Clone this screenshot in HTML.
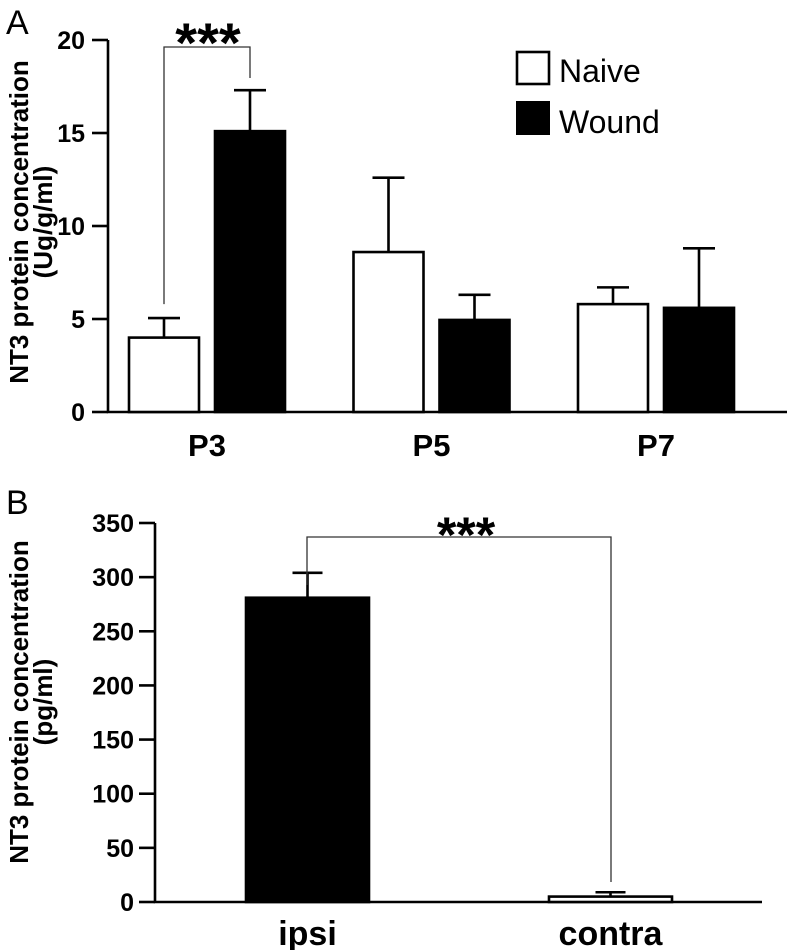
<!DOCTYPE html>
<html><head><meta charset="utf-8"><style>
body{margin:0;background:#fff}
svg{display:block;font-family:"Liberation Sans",Arial,sans-serif}
</style></head><body>
<svg id="c" width="787" height="950" viewBox="0 0 787 950"></svg>
<script>
// Panel A data
const catsA = ['P3','P5','P7'];
const naiveA = [4.0, 8.6, 5.8];
const naiveErrA = [1.05, 4.0, 0.9];
const woundA = [15.1, 4.95, 5.6];
const woundErrA = [2.2, 1.35, 3.2];
const ticksA = [0,5,10,15,20];
// Panel B data
const catsB = ['ipsi','contra'];
const valsB = [281, 5];
const errsB = [23, 4];
const fillB = ['#000','#fff'];
const ticksB = [0,50,100,150,200,250,300,350];

const NS='http://www.w3.org/2000/svg';
const svg=document.getElementById('c');
function mk(tag,attrs,parent){const e=document.createElementNS(NS,tag);for(const k in attrs)e.setAttribute(k,attrs[k]);(parent||svg).appendChild(e);return e;}
function txt(s,attrs,parent){const e=mk('text',attrs,parent);e.textContent=s;return e;}

// ---- Panel A ----
const yA=v=>412-v*18.6;
const gA=mk('g',{});


const lA=txt('A',{x:6,y:34,'font-size':34},gA);

const axA=mk('path',{d:`M108,${yA(20)}V412H787`,stroke:'#000','stroke-width':2.6,fill:'none'},gA);

ticksA.forEach(t=>{
  const l=mk('line',{x1:92,x2:108,y1:yA(t),y2:yA(t),stroke:'#000','stroke-width':2.6},gA);
  
  const tx=txt(String(t),{x:85,y:yA(t)+9,'font-size':25,'font-weight':'bold','text-anchor':'end'},gA);
  
});
const ytA=txt('NT3 protein concentration',{x:0,y:0,'font-size':26,'font-weight':'bold','text-anchor':'middle',transform:`translate(28,222) rotate(-90)`},gA);

const ytA2=txt('(Ug/g/ml)',{x:0,y:0,'font-size':26,'font-weight':'bold','text-anchor':'middle',transform:`translate(52,222) rotate(-90)`},gA);

const barW=70, gap=16, groupStart=129, groupStep=224.5;
catsA.forEach((c,i)=>{
  const x0=groupStart+i*groupStep, x1=x0+barW+gap;
  [[naiveA[i],naiveErrA[i],x0,'#fff','naive'],[woundA[i],woundErrA[i],x1,'#000','wound']].forEach(([v,e,x,f,n])=>{
    const cx=x+barW/2;
    const er=mk('path',{d:`M${cx},${yA(v)}V${yA(v+e)}M${cx-16},${yA(v+e)}H${cx+16}`,stroke:'#000','stroke-width':2.6,fill:'none'},gA);
    
    const r=mk('rect',{x:x,y:yA(v),width:barW,height:412-yA(v),fill:f,stroke:'#000','stroke-width':2.6},gA);
    
  });
  const cl=txt(c,{x:x0+barW+gap/2,y:456,'font-size':31,'font-weight':'bold','text-anchor':'middle'},gA);
  
});
// significance A
const sA=mk('path',{d:`M${groupStart+barW/2},${yA(5.8)}V47H${groupStart+barW+gap+barW/2}V78`,stroke:'#333','stroke-width':1.3,fill:'none'},gA);

const stA=txt('***',{x:208,y:62,'font-size':56,'font-weight':'bold','text-anchor':'middle'},gA);

// legend
const lg=mk('g',{},gA);

const lb1=mk('rect',{x:517,y:52,width:32,height:32,fill:'#fff',stroke:'#000','stroke-width':2.6},lg);

const lt1=txt('Naive',{x:559,y:82,'font-size':32},lg);

const lb2=mk('rect',{x:516,y:101,width:34,height:34,fill:'#000'},lg);

const lt2=txt('Wound',{x:559,y:133,'font-size':32},lg);


// ---- Panel B ----
const yB=v=>902-v*(379/350);
const gB=mk('g',{});


const lB=txt('B',{x:6,y:514,'font-size':34},gB);

const axB=mk('path',{d:`M155,${yB(350)}V902H762`,stroke:'#000','stroke-width':2.6,fill:'none'},gB);

ticksB.forEach(t=>{
  const l=mk('line',{x1:139,x2:155,y1:yB(t),y2:yB(t),stroke:'#000','stroke-width':2.6},gB);
  
  const tx=txt(String(t),{x:134,y:yB(t)+9,'font-size':25,'font-weight':'bold','text-anchor':'end'},gB);
  
});
const ytB=txt('NT3 protein concentration',{x:0,y:0,'font-size':26,'font-weight':'bold','text-anchor':'middle',transform:`translate(28,702) rotate(-90)`},gB);

const ytB2=txt('(pg/ml)',{x:0,y:0,'font-size':26,'font-weight':'bold','text-anchor':'middle',transform:`translate(52,702) rotate(-90)`},gB);

const bxB=[246,549], bwB=123;
catsB.forEach((c,i)=>{
  const x=bxB[i], cx=x+bwB/2, v=valsB[i], e=errsB[i];
  const er=mk('path',{d:`M${cx},${yB(v)}V${yB(v+e)}M${cx-15},${yB(v+e)}H${cx+15}`,stroke:'#000','stroke-width':2.6,fill:'none'},gB);
  
  const r=mk('rect',{x:x,y:yB(v),width:bwB,height:902-yB(v),fill:fillB[i],stroke:'#000','stroke-width':2.6},gB);
  
  const cl=txt(c,{x:cx,y:945,'font-size':34,'font-weight':'bold','text-anchor':'middle'},gB);
  
});
const sB=mk('path',{d:`M307,585V537H611V882`,stroke:'#333','stroke-width':1.3,fill:'none'},gB);

const stB=txt('***',{x:466,y:552,'font-size':50,'font-weight':'bold','text-anchor':'middle'},gB);

</script>
</body></html>
